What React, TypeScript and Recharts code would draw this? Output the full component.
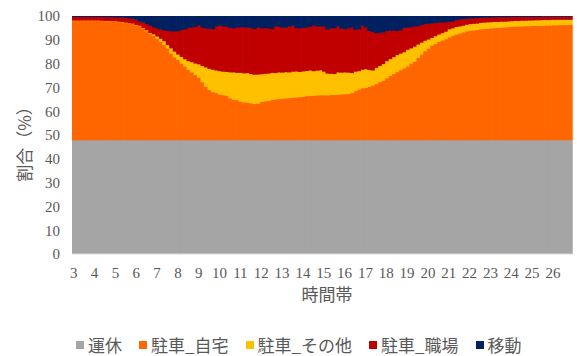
import { BarChart, Bar, XAxis, YAxis, Legend } from 'recharts';

const JP = '"Noto Sans CJK JP", "Noto Sans", sans-serif';
const SERIF = '"Liberation Serif", "Times New Roman", serif';
const TEXT = '#595959';

// 10分刻み、3時〜26時台
const hours = ['3', '4', '5', '6', '7', '8', '9', '10', '11', '12', '13', '14', '15', '16', '17', '18', '19', '20', '21', '22', '23', '24', '25', '26'];
const minutes = ['00', '10', '20', '30', '40', '50'];
const slots = hours.flatMap((h) => minutes.map((m) => `${h}:${m}`));
const yTicks = [0, 10, 20, 30, 40, 50, 60, 70, 80, 90, 100];

const unkyu = [
  48, 48, 48, 48, 48, 48, 48, 48, 48, 48, 48, 48, 48, 48, 48, 48, 48, 48, 48, 48, 48, 48, 48, 48,
  48, 48, 48, 48, 48, 48, 48, 48, 48, 48, 48, 48, 48, 48, 48, 48, 48, 48, 48, 48, 48, 48, 48, 48,
  48, 48, 48, 48, 48, 48, 48, 48, 48, 48, 48, 48, 48, 48, 48, 48, 48, 48, 48, 48, 48, 48, 48, 48,
  48, 48, 48, 48, 48, 48, 48, 48, 48, 48, 48, 48, 48, 48, 48, 48, 48, 48, 48, 48, 48, 48, 48, 48,
  48, 48, 48, 48, 48, 48, 48, 48, 48, 48, 48, 48, 48, 48, 48, 48, 48, 48, 48, 48, 48, 48, 48, 48,
  48, 48, 48, 48, 48, 48, 48, 48, 48, 48, 48, 48, 48, 48, 48, 48, 48, 48, 48, 48, 48, 48, 48, 48,
];

const jitaku = [
  50.2, 50.2, 50.2, 50.2, 50.2, 50.2,
  50.2, 50.2, 50.1, 50.0, 50.0, 49.9,
  49.9, 49.7, 49.5, 49.2, 48.9, 48.8,
  48.2, 47.9, 46.8, 45.8, 44.6, 43.8,
  42.6, 41.3, 40.0, 38.5, 36.4, 34.8,
  33.8, 32.2, 31.0, 29.5, 28.5, 27.4,
  26.3, 24.3, 22.5, 21.2, 20.2, 19.8,
  19.2, 18.9, 18.7, 17.6, 17.0, 16.8,
  16.2, 15.9, 15.8, 15.5, 15.2, 15.4,
  16.1, 16.3, 16.5, 16.9, 17.1, 17.3,
  17.5, 17.6, 17.7, 17.9, 18.0, 18.1,
  18.3, 18.5, 18.6, 18.7, 18.8, 18.9,
  18.9, 18.8, 19.0, 19.0, 19.1, 19.2,
  19.3, 19.5, 19.8, 20.6, 21.3, 21.8,
  22.0, 22.5, 23.0, 23.6, 24.4, 25.0,
  26.0, 27.0, 27.8, 28.6, 29.4, 30.2,
  31.0, 32.2, 33.0, 34.6, 36.0, 37.4,
  38.5, 39.8, 40.5, 41.3, 41.9, 42.4,
  43.2, 43.9, 44.4, 44.8, 45.3, 45.7,
  46.0, 46.1, 46.3, 46.6, 46.7, 46.8,
  47.0, 47.1, 47.2, 47.3, 47.4, 47.5,
  47.6, 47.7, 47.8, 47.8, 47.9, 47.9,
  48.0, 48.0, 48.1, 48.1, 48.2, 48.2,
  48.3, 48.3, 48.4, 48.4, 48.4, 48.5,
];

const sonota = [
  0.1, 0.1, 0.1, 0.1, 0.1, 0.1,
  0.1, 0.1, 0.1, 0.1, 0.1, 0.1,
  0.1, 0.1, 0.2, 0.2, 0.2, 0.2,
  0.2, 0.2, 0.3, 0.4, 0.4, 0.7,
  1.0, 1.3, 1.6, 1.5, 2.2, 2.4,
  2.2, 2.8, 3.0, 3.7, 4.3, 4.8,
  5.6, 6.9, 8.1, 8.8, 9.4, 9.5,
  9.8, 9.9, 10.0, 10.9, 11.5, 11.5,
  12.1, 12.2, 12.4, 12.3, 12.3, 12.2,
  11.6, 11.6, 11.5, 11.4, 11.1, 11.2,
  10.9, 11.0, 10.8, 10.9, 10.9, 10.6,
  10.6, 10.6, 10.7, 10.3, 10.4, 10.5,
  9.9, 9.2, 8.9, 8.8, 9.4, 9.2,
  9.2, 8.9, 8.4, 8.2, 7.7, 7.8,
  7.9, 7.0, 6.3, 6.8, 6.8, 7.0,
  7.2, 7.1, 7.1, 7.2, 7.0, 6.8,
  7.0, 6.4, 6.3, 5.6, 5.0, 4.4,
  3.8, 3.2, 3.2, 3.1, 3.1, 3.2,
  3.4, 3.1, 3.2, 3.0, 2.8, 2.8,
  2.8, 2.8, 2.7, 2.7, 2.7, 2.7,
  2.6, 2.6, 2.5, 2.5, 2.4, 2.4,
  2.4, 2.4, 2.3, 2.4, 2.3, 2.4,
  2.3, 2.4, 2.3, 2.4, 2.3, 2.3,
  2.3, 2.3, 2.2, 2.2, 2.2, 2.1,
];

const shokuba = [
  1.5, 1.5, 1.5, 1.5, 1.5, 1.5,
  1.5, 1.5, 1.6, 1.6, 1.6, 1.7,
  1.6, 1.8, 1.8, 2.0, 2.1, 2.0,
  2.2, 1.7, 2.3, 2.6, 3.2, 2.9,
  3.4, 3.9, 4.6, 5.9, 7.2, 8.5,
  9.8, 11.3, 12.6, 14.0, 14.6, 15.4,
  16.4, 16.0, 16.4, 16.8, 17.1, 18.6,
  19.1, 19.0, 19.1, 18.7, 18.5, 19.1,
  19.2, 19.2, 19.2, 19.3, 19.2, 19.8,
  19.3, 19.2, 19.0, 18.4, 19.7, 19.1,
  19.0, 18.7, 19.3, 19.3, 18.2, 18.3,
  18.3, 18.3, 18.3, 19.3, 18.6, 18.3,
  19.0, 18.5, 19.1, 19.3, 19.3, 18.4,
  18.2, 18.5, 19.2, 17.6, 17.5, 18.6,
  17.5, 16.4, 16.2, 14.6, 13.9, 13.2,
  12.7, 11.9, 11.2, 10.1, 9.8, 10.2,
  9.4, 8.9, 8.5, 7.7, 7.4, 7.0,
  6.6, 6.0, 5.6, 5.0, 4.5, 4.0,
  3.1, 2.9, 2.9, 2.9, 2.8, 2.5,
  2.4, 2.3, 2.3, 2.1, 2.1, 2.0,
  2.0, 1.9, 2.0, 1.9, 1.9, 1.8,
  1.8, 1.7, 1.7, 1.6, 1.6, 1.5,
  1.5, 1.4, 1.4, 1.4, 1.4, 1.4,
  1.3, 1.3, 1.3, 1.3, 1.3, 1.3,
];

const idou = [
  0.2, 0.2, 0.2, 0.2, 0.2, 0.2,
  0.2, 0.2, 0.2, 0.3, 0.3, 0.3,
  0.4, 0.4, 0.5, 0.6, 0.8, 1.0,
  1.4, 2.2, 2.6, 3.2, 3.8, 4.6,
  5.0, 5.5, 5.8, 6.1, 6.2, 6.3,
  6.2, 5.7, 5.4, 4.8, 4.6, 4.4,
  3.7, 4.8, 5.0, 5.2, 5.3, 4.1,
  3.9, 4.2, 4.2, 4.8, 5.0, 4.6,
  4.5, 4.7, 4.6, 4.9, 5.3, 4.6,
  5.0, 4.9, 5.0, 5.3, 4.1, 4.4,
  4.6, 4.7, 4.2, 3.9, 4.9, 5.0,
  4.8, 4.6, 4.4, 3.7, 4.2, 4.3,
  4.2, 5.5, 5.0, 4.9, 4.2, 5.2,
  5.3, 5.1, 4.6, 5.6, 5.5, 3.8,
  4.6, 6.1, 6.5, 7.0, 6.9, 6.8,
  6.1, 6.0, 5.9, 6.1, 5.8, 4.8,
  4.6, 4.5, 4.2, 4.1, 3.6, 3.2,
  3.1, 3.0, 2.7, 2.6, 2.5, 2.4,
  2.3, 2.1, 1.5, 1.3, 1.1, 1.0,
  0.8, 0.8, 0.7, 0.6, 0.5, 0.5,
  0.4, 0.4, 0.3, 0.3, 0.3, 0.3,
  0.2, 0.2, 0.2, 0.2, 0.2, 0.2,
  0.2, 0.2, 0.2, 0.1, 0.1, 0.1,
  0.1, 0.1, 0.1, 0.1, 0.1, 0.1,
];

const series = [
  { key: 'unkyu', name: '運休', color: '#A5A5A5', values: unkyu },
  { key: 'jitaku', name: '駐車_自宅', color: '#FF6600', values: jitaku },
  { key: 'sonota', name: '駐車_その他', color: '#FFC000', values: sonota },
  { key: 'shokuba', name: '駐車_職場', color: '#C00000', values: shokuba },
  { key: 'idou', name: '移動', color: '#002060', values: idou },
];

const data = slots.map((time, i) => {
  const row: Record<string, any> = { time };
  series.forEach((s) => (row[s.key] = s.values[i]));
  return row;
});

// 隣り合う棒の継ぎ目に白い筋が出ないよう、1px 重ねて描く
const SeamlessBar = (props: any) => {
  const { x, y, width, height, fill } = props;
  if (!height || height <= 0) return null;
  return <rect x={x} y={y} width={width + 1.2} height={height + 0.5} fill={fill} />;
};

const renderLegend = () => (
  <div
    style={{
      display: 'flex',
      paddingLeft: 76,
      gap: 17,
      fontFamily: JP,
      fontSize: 17,
      lineHeight: '20px',
      color: TEXT,
    }}
  >
    {series.map((s) => (
      <span key={s.key} style={{ display: 'flex', alignItems: 'center', whiteSpace: 'nowrap' }}>
        <span style={{ width: 8, height: 8, background: s.color, marginRight: 4 }} />
        {s.name}
      </span>
    ))}
  </div>
);

export default function App() {
  return (
    <div style={{ width: 577, height: 356, background: '#fff' }}>
      <style>{'body{margin:0}'}</style>
      <BarChart
        width={577}
        height={356}
        data={data}
        margin={{ top: 16, right: 5, bottom: 0, left: 0 }}
        barCategoryGap={0}
        barGap={0}
      >
        <XAxis
          dataKey="time"
          height={102}
          interval={5}
          tickLine={false}
          axisLine={{ stroke: '#D9D9D9' }}
          tickMargin={7}
          tickFormatter={(v: string) => v.split(':')[0]}
          tick={{ fill: TEXT, fontSize: 15, fontFamily: SERIF }}
          label={{
            content: () => (
              <text x={327} y={301} textAnchor="middle" fill={TEXT} fontSize={17} fontFamily={JP}>
                時間帯
              </text>
            ),
          }}
        />
        <YAxis
          width={72}
          domain={[0, 100]}
          ticks={yTicks}
          allowDataOverflow
          tickLine={false}
          axisLine={false}
          tickMargin={6}
          tick={{ fill: TEXT, fontSize: 15, fontFamily: SERIF }}
          label={{
            content: () => (
              <text
                x={23}
                y={140}
                transform="rotate(-90 23 140)"
                textAnchor="middle"
                dominantBaseline="central"
                fill={TEXT}
                fontSize={17}
                fontFamily={JP}
              >
                割合（%）
              </text>
            ),
          }}
        />
        <Legend
          content={renderLegend}
          layout="horizontal"
          verticalAlign="middle"
          align="center"
          wrapperStyle={{ top: 335, left: 0, width: 577 }}
        />
        {series.map((s) => (
          <Bar
            key={s.key}
            dataKey={s.key}
            name={s.name}
            stackId="a"
            fill={s.color}
            shape={SeamlessBar}
            isAnimationActive={false}
          />
        ))}
      </BarChart>
    </div>
  );
}
